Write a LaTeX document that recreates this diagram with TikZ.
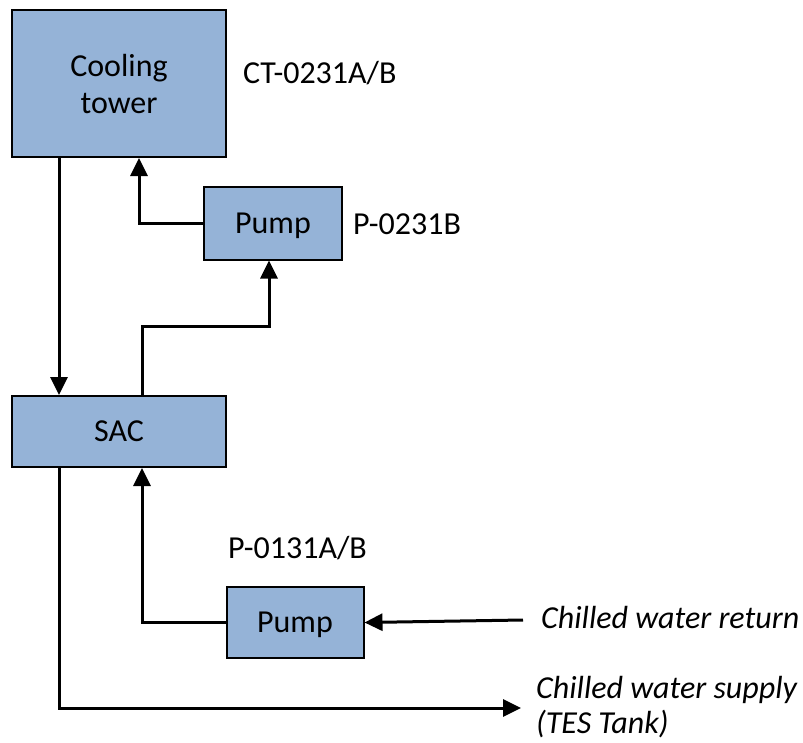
\documentclass[tikz,border=0pt]{standalone}
\usepackage{fontspec}
\setmainfont{Carlito}
\usetikzlibrary{arrows.meta}
\definecolor{boxfill}{HTML}{95B3D7}
\tikzset{
  box/.style={draw=black, line width=2pt, fill=boxfill, inner sep=0pt, text depth=0pt, font=\fontsize{32}{37}\selectfont, align=center},
  lbl/.style={inner sep=0pt, anchor=west, font=\fontsize{32}{37}\selectfont},
  ilbl/.style={inner sep=0pt, anchor=west, align=left, font=\fontsize{32}{35}\selectfont\itshape},
  conn/.style={line width=3pt, line join=miter, -{Triangle[length=18pt,width=17pt]}},
}
\begin{document}
\begin{tikzpicture}[x=1pt,y=-1pt]
\useasboundingbox (0,0) rectangle (803,742);
\node[box, minimum width=214pt, minimum height=147pt] (CT) at (119,83.5) {Cooling\\tower};
\node[lbl] (CTl) at (243,73) {CT-0231A/B};
\node[box, minimum width=138pt, minimum height=73pt] (P1) at (273,223) {Pump};
\node[lbl] (P1l) at (353,224) {P-0231B};
\node[box, minimum width=214pt, minimum height=71pt] (SAC) at (119,431.5) {SAC};
\node[box, minimum width=137pt, minimum height=71pt] (P2) at (295,622.5) {Pump};
\node[lbl] (P2l) at (228,548) {P-0131A/B};
\node[ilbl] (ret) at (541,617) {Chilled water return};
\node[ilbl] (sup) at (536,707) {Chilled water supply\\(TES Tank)};
\coordinate (retS) at (523,620);
\coordinate (supE) at (521,708);
% connectors
\draw[conn] ([xshift=48pt]CT.south west) -- ([xshift=48pt]SAC.north west);
\draw[conn] (P1.west) -| ([xshift=128pt]CT.south west);
\draw[conn] ([xshift=131pt]SAC.north west) |- (269,326) -- ([xshift=-4pt]P1.south);
\draw[conn] (P2.west) -| ([xshift=131pt]SAC.south west);
\draw[conn] (retS) -- (P2.east);
\draw[conn] ([xshift=48pt]SAC.south west) |- (supE);
\end{tikzpicture}
\end{document}
